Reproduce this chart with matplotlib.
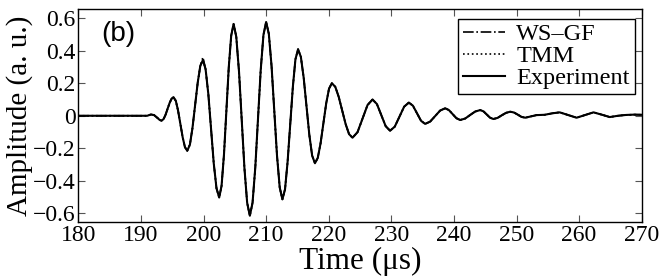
import matplotlib
matplotlib.use('Agg')
import matplotlib.pyplot as plt
from matplotlib.ticker import FixedLocator, FuncFormatter

# values (time in us, amplitude in a.u.)
time_us = [
    180.0, 185.0, 190.0, 191.0, 191.6, 192.1, 192.6, 193.0, 193.3,
    193.62, 193.93, 194.25, 194.57, 194.88, 195.2,
    195.57, 195.93, 196.3, 196.67, 197.03, 197.4,
    197.82, 198.23, 198.65, 199.07, 199.48, 199.9,
    200.33, 200.77, 201.2, 201.63, 202.07, 202.5,
    202.88, 203.27, 203.65, 204.03, 204.42, 204.8,
    205.23, 205.67, 206.1, 206.53, 206.97, 207.4,
    207.83, 208.27, 208.7, 209.13, 209.57, 210.0,
    210.43, 210.87, 211.3, 211.73, 212.17, 212.6,
    213.02, 213.43, 213.85, 214.27, 214.68, 215.1,
    215.55, 216.0, 216.45, 216.9, 217.35, 217.8,
    218.25, 218.7, 219.15, 219.6, 220.05, 220.5,
    221.05, 221.6, 222.15, 222.7, 223.25, 223.8,
    224.6, 225.4, 226.2, 227.0,
    227.7, 228.4, 229.1, 229.8,
    230.55, 231.3, 232.05, 232.8,
    233.45, 234.1, 234.75, 235.4,
    236.2, 237.0, 237.8, 238.6,
    239.2, 239.8, 240.4, 241.0,
    241.8, 242.6, 243.4, 244.2,
    244.73, 245.25, 245.78, 246.3,
    246.98, 247.65, 248.33, 249.0,
    249.6, 250.2, 250.8, 251.4,
    252.3, 253.2, 254.5, 255.7, 256.9,
    258.2, 259.6, 261.0, 262.3, 263.6, 264.9,
    266.2, 267.5, 268.8, 270.0,
]

experiment = [
    0.0, 0.0, 0.0, 0.0, 0.008, 0.004, -0.012, -0.026, -0.03,
    -0.02, 0.006, 0.042, 0.078, 0.104, 0.114,
    0.092, 0.032, -0.05, -0.133, -0.193, -0.215,
    -0.178, -0.076, 0.064, 0.204, 0.306, 0.343,
    0.286, 0.132, -0.08, -0.292, -0.446, -0.503,
    -0.431, -0.236, 0.031, 0.298, 0.493, 0.565,
    0.486, 0.27, -0.025, -0.32, -0.536, -0.615,
    -0.535, -0.317, -0.019, 0.279, 0.497, 0.577,
    0.504, 0.304, 0.032, -0.241, -0.441, -0.514,
    -0.452, -0.283, -0.053, 0.178, 0.347, 0.409,
    0.362, 0.234, 0.059, -0.117, -0.245, -0.292,
    -0.259, -0.169, -0.046, 0.077, 0.167, 0.2,
    0.178, 0.116, 0.033, -0.051, -0.113, -0.135,
    -0.101, -0.018, 0.066, 0.1,
    0.072, 0.004, -0.064, -0.092,
    -0.067, -0.006, 0.056, 0.081,
    0.062, 0.016, -0.031, -0.05,
    -0.036, -0.002, 0.032, 0.046,
    0.035, 0.01, -0.015, -0.026,
    -0.017, 0.005, 0.026, 0.035,
    0.027, 0.008, -0.012, -0.02,
    -0.013, 0.003, 0.018, 0.025,
    0.02, 0.007, -0.007, -0.012,
    -0.004, 0.004, 0.006, 0.015, 0.021,
    0.005, -0.012, 0.005, 0.021, 0.007, -0.008,
    0.0, 0.005, 0.007, 0.006,
]

# the two models sit on top of the measurement
ws_gf = list(experiment)
ws_gf[26] = 0.36
tmm = list(experiment)

x_ticks = [180, 190, 200, 210, 220, 230, 240, 250, 260, 270]
y_ticks = [-0.6, -0.4, -0.2, 0, 0.2, 0.4, 0.6]

plt.rcParams['font.family'] = ['Liberation Serif', 'DejaVu Serif']

fig = plt.figure(figsize=(6.64, 2.8), dpi=100)
ax = fig.add_axes([0.118, 0.208, 0.8484, 0.76])

ax.plot(time_us, ws_gf, color='black', linestyle='-.', linewidth=1.2, label='WS\u2013GF')
ax.plot(time_us, tmm, color='black', linestyle=':', linewidth=1.2, label='TMM')
ax.plot(time_us, experiment, color='black', linestyle='-', linewidth=1.5, label='Experiment')

ax.set_xlim(180, 270)
ax.set_ylim(-0.652, 0.657)
ax.xaxis.set_major_locator(FixedLocator(x_ticks))
ax.yaxis.set_major_locator(FixedLocator(y_ticks))
ax.yaxis.set_major_formatter(FuncFormatter(
    lambda v, p: '0' if abs(v) < 1e-9 else ('%.1f' % v).replace('-', '\u2212')))
ax.tick_params(direction='in', top=True, right=True, length=5, width=0.8,
               labelsize=17, pad=2, color='#555555')
for s in ax.spines.values():
    s.set_linewidth(1.0)

ax.set_xlabel('Time (\u03bcs)', fontsize=22.5, labelpad=1)
ax.set_ylabel('Amplitude (a. u.)', fontsize=21, labelpad=0)

ax.text(183.6, 0.5, '(b)', fontsize=20, family='Liberation Sans', va='center', ha='left')

leg = ax.legend(loc='upper right', bbox_to_anchor=(0.9875, 0.955), fontsize=17.5,
                frameon=True, fancybox=False, edgecolor='black', framealpha=1,
                handlelength=1.75, handletextpad=0.45, borderpad=0.2, labelspacing=0.0,
                borderaxespad=0)
leg.get_frame().set_linewidth(1.0)

fig.savefig('out.png', dpi=100)
